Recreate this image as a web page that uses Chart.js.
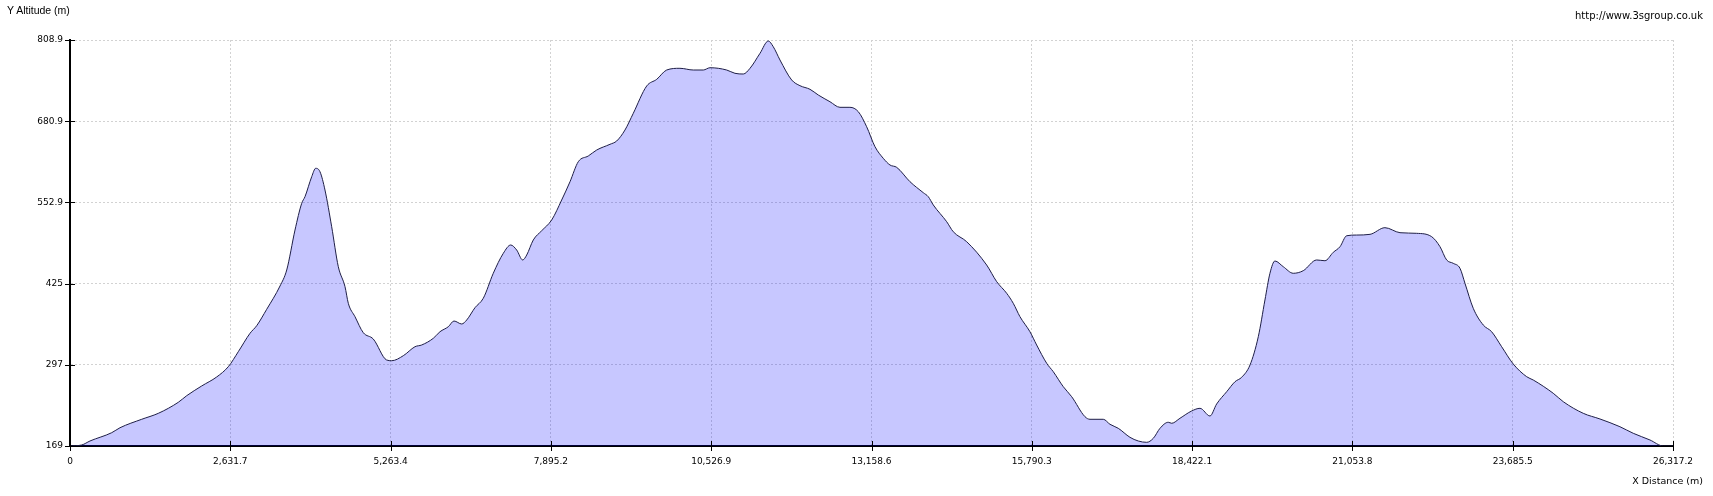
<!DOCTYPE html>
<html>
<head>
<meta charset="utf-8">
<script src="https://cdn.jsdelivr.net/npm/chart.js@4.4.1/dist/chart.umd.min.js"></script>
<style>
  html, body { margin: 0; padding: 0; background: #ffffff; }
  #wrap { position: relative; width: 1713px; height: 496px; overflow: hidden; }
  canvas { position: absolute; left: 0; top: 0; }
  .lbl { position: absolute; font-family: "DejaVu Sans", sans-serif; font-size: 9.5px; color: #000; white-space: nowrap; }
</style>
</head>
<body>
<div id="wrap">
  <canvas id="c" width="1713" height="496"></canvas>
  <div class="lbl" id="ytitle" style="left:7px; top:4px; font-family:'Liberation Sans', sans-serif; font-size:10.5px;">Y Altitude (m)</div>
  <div class="lbl" id="url" style="right:10px; top:10px; font-size:10px;">http://www.3sgroup.co.uk</div>
  <div class="lbl" id="xtitle" style="right:10px; top:475px;">X Distance (m)</div>
</div>
<script>
// Distance along route (m)
const distances = [
  0, 192, 328, 685, 821, 1177, 1450, 1778, 1916, 2162, 2408, 2599, 2763, 2955, 3065, 3229,
  3448, 3558, 3694, 3804, 3858, 3968, 4034, 4104, 4186, 4296, 4405, 4515, 4569, 4679, 4815,
  4979, 5199, 5281, 5472, 5664, 5774, 5964, 6074, 6211, 6304, 6431, 6513, 6649, 6785, 6949,
  7114, 7235, 7333, 7432, 7498, 7606, 7744, 7908, 8072, 8209, 8345, 8509, 8647, 8865, 8975,
  9111, 9248, 9468, 9632, 9796, 10014, 10233, 10397, 10507, 10781, 10917, 11054, 11164, 11328,
  11464, 11546, 11656, 11848, 11984, 12149, 12285, 12477, 12641, 12805, 12942, 13079, 13216,
  13352, 13462, 13572, 13790, 14009, 14091, 14173, 14393, 14501, 14721, 15049, 15214, 15378,
  15486, 15596, 15760, 15870, 16035, 16143, 16307, 16445, 16663, 16746, 16964, 17074, 17210,
  17402, 17538, 17676, 17785, 17895, 18031, 18087, 18223, 18415, 18552, 18715, 18825, 18990,
  19126, 19236, 19373, 19509, 19618, 19700, 19782, 19919, 20083, 20247, 20467, 20603, 20740,
  20850, 20960, 21124, 21343, 21588, 21835, 22109, 22355, 22492, 22601, 22710, 22820, 22902,
  23038, 23202, 23340, 23504, 23695, 23915, 24023, 24351, 24516, 24844, 25118, 25446, 25665,
  25939, 26158, 26317.2
];
// Altitude (m)
const altitudes = [
  169, 170.6, 176.9, 190.0, 197.8, 211.1, 220.5, 237.9, 248.3, 263.6, 277.8, 294.0, 317.6, 346.6, 358.6, 384.4,
  421.2, 446.4, 509.4, 551.5, 561.9, 593.4, 606.7, 601.3, 572.5, 514.6, 451.6, 420.1, 393.9, 372.8, 347.6,
  337.6, 304.5, 303.4, 311.3, 325.5, 328.2, 338.7, 349.1, 357.0, 366.0, 361.3, 367.6, 387.0, 401.8, 441.2,
  472.7, 485.8, 477.9, 462.2, 470.0, 493.7, 508.3, 525.2, 556.7, 585.6, 617.1, 626.1, 635.5, 644.5, 649.7,
  667.0, 693.4, 736.4, 746.9, 761.6, 764.3, 761.6, 761.6, 765.2, 761.6, 756.4, 755.3, 764.3, 787.9,
  807.3, 798.3, 777.4, 745.9, 736.9, 731.2, 722.2, 711.6, 702.8, 702.8, 695.9, 672.2, 640.7,
  622.4, 611.9, 608.2, 585.6, 568.2, 561.9, 548.9, 522.5, 506.7, 491.0, 454.3, 428.0, 409.7,
  393.9, 372.8, 349.1, 328.2, 299.3, 286.1, 262.5, 246.7, 215.2, 211.1, 211.1, 203.2, 196.9,
  182.7, 176.9, 174.8, 181.1, 196.9, 206.4, 204.8, 212.7, 224.2, 228.4, 216.3, 235.2, 254.6,
  270.3, 277.3, 296.7, 341.3, 399.1, 441.2, 460.6, 451.6, 441.2, 445.3, 462.2, 461.0, 474.3,
  483.1, 500.4, 501.5, 502.6, 513.1, 505.2, 504.2, 498.9, 483.1, 462.2, 456.9, 449.1, 425.4,
  386.0, 359.7, 349.1, 325.5, 298.2, 278.2, 273.0, 252.1, 238.8, 220.5, 211.6, 199.4, 189.0,
  178.5, 169, 169
];
// Tick values and labels
const xTickValues = [0, 2631.7, 5263.4, 7895.2, 10526.9, 13158.6, 15790.3, 18422.1, 21053.8, 23685.5, 26317.2];
const xTickLabels = ["0", "2,631.7", "5,263.4", "7,895.2", "10,526.9", "13,158.6", "15,790.3", "18,422.1", "21,053.8", "23,685.5", "26,317.2"];
const yTickValues = [169, 297, 425, 552.9, 680.9, 808.9];
const yTickLabels = ["169", "297", "425", "552.9", "680.9", "808.9"];

const points = distances.map((d, i) => ({ x: d, y: altitudes[i] }));

const crossTicks = {
  id: 'crossTicks',
  afterDraw(chart) {
    const { ctx, chartArea, scales } = chart;
    ctx.save();
    ctx.strokeStyle = '#000';
    ctx.lineWidth = 1;
    ctx.beginPath();
    xTickValues.forEach(v => {
      const px = Math.round(scales.x.getPixelForValue(v)) + 0.5;
      ctx.moveTo(px, chartArea.bottom - 5);
      ctx.lineTo(px, chartArea.bottom + 5);
    });
    yTickValues.forEach(v => {
      const py = Math.round(scales.y.getPixelForValue(v)) + 0.5;
      ctx.moveTo(chartArea.left - 5, py);
      ctx.lineTo(chartArea.left + 5, py);
    });
    ctx.stroke();
    ctx.restore();
  }
};

const tickFont = { family: 'DejaVu Sans', size: 9 };

new Chart(document.getElementById('c'), {
  type: 'line',
  data: {
    datasets: [{
      data: points,
      borderColor: '#1e1e46',
      borderWidth: 1,
      backgroundColor: 'rgba(0,0,255,0.22)',
      fill: 'start',
      pointRadius: 0,
      cubicInterpolationMode: 'monotone',
      tension: 0.4
    }]
  },
  options: {
    responsive: false,
    animation: false,
    devicePixelRatio: 1,
    layout: { padding: { top: 40, right: 40, left: 0, bottom: 0 } },
    plugins: { legend: { display: false }, tooltip: { enabled: false } },
    scales: {
      x: {
        type: 'linear',
        min: 0,
        max: 26317.2,
        afterBuildTicks: (scale) => { scale.ticks = xTickValues.map(v => ({ value: v })); },
        afterFit: (scale) => { scale.height = 50; },
        ticks: {
          autoSkip: false,
          maxRotation: 0,
          padding: 5,
          color: '#000',
          font: tickFont,
          callback: (v, i) => xTickLabels[i]
        },
        grid: { color: '#d2d2d2', tickLength: 5, tickColor: 'rgba(0,0,0,0)', lineWidth: 1 },
        border: { display: true, color: '#000', width: 2, dash: [2, 2] }
      },
      y: {
        type: 'linear',
        min: 169,
        max: 808.9,
        afterBuildTicks: (scale) => { scale.ticks = yTickValues.map(v => ({ value: v })); },
        afterFit: (scale) => { scale.width = 70; },
        ticks: {
          autoSkip: false,
          padding: 2,
          color: '#000',
          font: tickFont,
          callback: (v, i) => yTickLabels[i]
        },
        grid: { color: '#d2d2d2', tickLength: 5, tickColor: 'rgba(0,0,0,0)', lineWidth: 1 },
        border: { display: true, color: '#000', width: 2, dash: [2, 2] }
      }
    }
  },
  plugins: [crossTicks]
});
</script>
</body>
</html>
